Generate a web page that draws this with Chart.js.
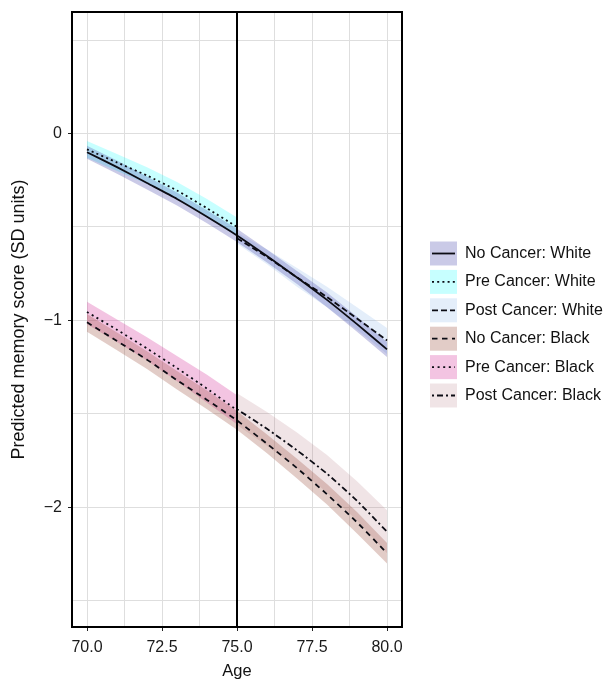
<!DOCTYPE html>
<html><head><meta charset="utf-8">
<script src="https://cdn.jsdelivr.net/npm/chart.js@4.4.0/dist/chart.umd.min.js"></script>
<style>html,body{margin:0;padding:0;background:#fff}#wrap{width:603px;height:682px;position:relative}</style>
</head><body><div id="wrap"><canvas id="c" width="603" height="682"></canvas></div>
<script>
// ---- data ----
const agesAll  = [70,71,72,73,74,75,76,77,78,79,80];
const agesPre  = [70,71,72,73,74,75];
const agesPost = [75,76,77,78,79,80];

// No Cancer: White
const ncwMean = [-0.10,-0.18,-0.265,-0.35,-0.445,-0.545,-0.655,-0.77,-0.89,-1.02,-1.155];
const ncwHi   = [-0.065,-0.145,-0.23,-0.315,-0.41,-0.51,-0.62,-0.735,-0.85,-0.98,-1.115];
const ncwLo   = [-0.135,-0.215,-0.30,-0.385,-0.48,-0.58,-0.69,-0.805,-0.93,-1.06,-1.195];
// Pre Cancer: White
const pcwMean = [-0.085,-0.155,-0.225,-0.305,-0.40,-0.50];
const pcwHi   = [-0.04,-0.11,-0.18,-0.26,-0.35,-0.45];
const pcwLo   = [-0.13,-0.20,-0.27,-0.35,-0.45,-0.55];
// Post Cancer: White
const qcwMean = [-0.56,-0.66,-0.77,-0.875,-0.99,-1.107];
const qcwHi   = [-0.53,-0.62,-0.72,-0.82,-0.93,-1.04];
const qcwLo   = [-0.59,-0.70,-0.82,-0.93,-1.05,-1.18];
// No Cancer: Black
const ncbMean = [-1.01,-1.11,-1.21,-1.32,-1.425,-1.535,-1.66,-1.79,-1.93,-2.08,-2.245];
const ncbHi   = [-0.965,-1.065,-1.165,-1.27,-1.375,-1.485,-1.61,-1.74,-1.875,-2.025,-2.19];
const ncbLo   = [-1.06,-1.16,-1.26,-1.37,-1.475,-1.585,-1.71,-1.845,-1.985,-2.14,-2.30];
// Pre Cancer: Black
const pcbMean = [-0.955,-1.05,-1.15,-1.255,-1.365,-1.48];
const pcbHi   = [-0.90,-0.995,-1.09,-1.19,-1.29,-1.40];
const pcbLo   = [-1.02,-1.115,-1.215,-1.325,-1.44,-1.555];
// Post Cancer: Black
const qcbMean = [-1.475,-1.58,-1.695,-1.82,-1.965,-2.13];
const qcbHi   = [-1.39,-1.49,-1.60,-1.72,-1.86,-2.015];
const qcbLo   = [-1.56,-1.67,-1.79,-1.92,-2.07,-2.245];

const legendLabels = ["No Cancer: White","Pre Cancer: White","Post Cancer: White",
                      "No Cancer: Black","Pre Cancer: Black","Post Cancer: Black"];
const xTickValues = [70,71.25,72.5,73.75,75,76.25,77.5,78.75,80];
const yTickValues = [-2.5,-2,-1.5,-1,-0.5,0,0.5];
const cancerAge = 75;

// ---- styles ----
const fills = ["rgba(80,80,175,0.30)","rgba(0,255,255,0.22)","rgba(120,170,230,0.20)",
               "rgba(160,85,70,0.30)","rgba(215,60,160,0.30)","rgba(180,120,130,0.20)"];
const dashes = [[],[2,3.2],[6,3],[5.5,4.5],[2,3.6],[2,3,6,3]];
const lineCol = "#0c0c14";

const series = [
  {x:agesAll, m:ncwMean, hi:ncwHi, lo:ncwLo},
  {x:agesPre, m:pcwMean, hi:pcwHi, lo:pcwLo},
  {x:agesPost,m:qcwMean, hi:qcwHi, lo:qcwLo},
  {x:agesAll, m:ncbMean, hi:ncbHi, lo:ncbLo},
  {x:agesPre, m:pcbMean, hi:pcbHi, lo:pcbLo},
  {x:agesPost,m:qcbMean, hi:qcbHi, lo:qcbLo}
];
const pts = (xs, ys) => xs.map((a,i)=>({x:a,y:ys[i]}));

const datasets = [];
series.forEach((s,k)=>{
  datasets.push({data:pts(s.x,s.hi), borderWidth:0, pointRadius:0, fill:'+1',
    backgroundColor:fills[k], order:2});
  datasets.push({data:pts(s.x,s.lo), borderWidth:0, pointRadius:0, fill:false, order:2});
});
series.forEach((s,k)=>{
  datasets.push({data:pts(s.x,s.m), borderWidth:1.8, borderColor:lineCol, borderDash:dashes[k],
    pointRadius:0, fill:false, order:1, tension:0.2});
});

const FONT = "'Liberation Sans', Arial, Helvetica, sans-serif";

const decor = {
  id:'decor',
  afterDatasetsDraw(chart){
    const {ctx, chartArea:a, scales:{x,y}} = chart;
    ctx.save();
    const vx = Math.round(x.getPixelForValue(cancerAge));
    ctx.strokeStyle = '#000'; ctx.lineWidth = 2;
    ctx.beginPath(); ctx.moveTo(vx, a.top); ctx.lineTo(vx, a.bottom); ctx.stroke();
    ctx.lineWidth = 2;
    ctx.strokeRect(a.left, a.top, a.right - a.left, a.bottom - a.top);
    ctx.restore();
  },
  afterDraw(chart){
    const ctx = chart.ctx;
    ctx.save();
    const x0 = 430, w = 27, h = 24, pitch = 28.4, yc0 = 253.5;
    legendLabels.forEach((lab,i)=>{
      const yc = yc0 + i*pitch;
      ctx.fillStyle = '#fff';
      ctx.fillRect(x0, yc - h/2, w, h);
      ctx.fillStyle = fills[i];
      ctx.fillRect(x0, yc - h/2, w, h);
      ctx.strokeStyle = lineCol; ctx.lineWidth = 1.8;
      ctx.setLineDash(dashes[i]);
      ctx.beginPath(); ctx.moveTo(x0+2, yc); ctx.lineTo(x0+w-2, yc); ctx.stroke();
      ctx.setLineDash([]);
      ctx.fillStyle = '#111';
      ctx.font = "16px " + FONT;
      ctx.textBaseline = 'middle';
      ctx.textAlign = 'left';
      ctx.fillText(lab, 465, yc);
    });
    ctx.restore();
  }
};

const isMajorX = v => Math.abs(v/2.5 - Math.round(v/2.5)) < 1e-6;

new Chart(document.getElementById('c'), {
  type:'line',
  data:{datasets},
  options:{
    responsive:false, animation:false, devicePixelRatio:1,
    layout:{padding:{top:12, right:201, bottom:0, left:0}},
    plugins:{legend:{display:false}, tooltip:{enabled:false}},
    scales:{
      x:{type:'linear', min:69.5, max:80.5,
        afterBuildTicks:s=>{ s.ticks = xTickValues.map(v=>({value:v})); },
        afterFit:s=>{ s.height = 55; s.paddingLeft = 0; s.paddingRight = 0; },
        grid:{color:'#dedede', lineWidth:1, tickLength:4,
          tickColor:c=> (c.tick && isMajorX(c.tick.value)) ? '#222' : 'rgba(0,0,0,0)'},
        border:{display:false},
        ticks:{autoSkip:false, maxRotation:0, color:'#1a1a1a', padding:7,
          font:{family:FONT, size:16},
          callback:v=> isMajorX(v) ? v.toFixed(1) : ''},
        title:{display:true, text:'Age', color:'#111', font:{family:FONT, size:16.5}, padding:{top:4,bottom:1}}
      },
      y:{type:'linear', min:-2.64, max:0.65,
        afterBuildTicks:s=>{ s.ticks = yTickValues.map(v=>({value:v})); },
        afterFit:s=>{ s.width = 72; s.paddingTop = 0; s.paddingBottom = 0; },
        grid:{color:'#dedede', lineWidth:1, tickLength:4,
          tickColor:c=> (c.tick && Number.isInteger(c.tick.value)) ? '#222' : 'rgba(0,0,0,0)'},
        border:{display:false},
        ticks:{autoSkip:false, color:'#1a1a1a', padding:6,
          font:{family:FONT, size:16},
          callback:v=> Number.isInteger(v) ? (v<0 ? '\u2212'+Math.abs(v) : String(v)) : ''},
        title:{display:true, text:'Predicted memory score (SD units)', color:'#111',
          font:{family:FONT, size:18}, padding:{top:8,bottom:0}}
      }
    }
  },
  plugins:[decor]
});
</script>
</body></html>
